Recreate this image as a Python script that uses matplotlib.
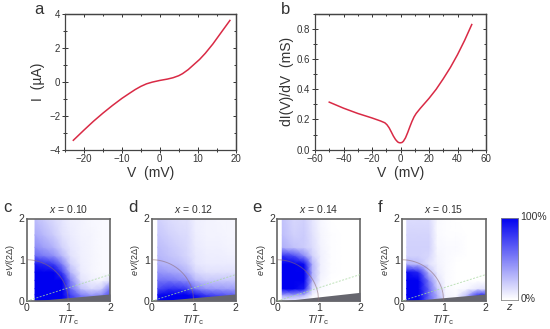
import matplotlib
matplotlib.use('Agg')
import matplotlib.pyplot as plt
from matplotlib.colors import LinearSegmentedColormap
from matplotlib.ticker import MultipleLocator
import numpy as np

plt.rcParams['font.family'] = ['Liberation Sans', 'DejaVu Sans']
plt.rcParams['mathtext.fontset'] = 'custom'
plt.rcParams['mathtext.it'] = 'Liberation Sans:italic'
plt.rcParams['mathtext.rm'] = 'Liberation Sans'

W, H = 550, 329
DARK = '#333333'
FRAME = '#444444'

v_a = [-22.8, -20, -17.5, -15, -12.5, -10, -8, -6.5, -5, -3.5, -2, 0, 2, 3.5, 5, 6, 7.5, 9, 10.5, 12, 14, 16, 18.5]
i_a = [-3.45, -2.85, -2.33, -1.85, -1.40, -0.98, -0.68, -0.46, -0.27, -0.12, -0.02, 0.08, 0.16, 0.24, 0.36, 0.48, 0.72, 1.02, 1.32, 1.68, 2.23, 2.85, 3.62]

v_b = [-50, -40, -30, -20, -14, -11, -9.5, -8, -6.5, -5, -3.5, -2, -1, 0, 1, 2, 3.5, 5, 6.5, 8, 9.5, 11, 14, 20, 25, 30, 35, 40, 45, 50]
g_b = [0.315, 0.275, 0.24, 0.21, 0.19, 0.178, 0.165, 0.145, 0.118, 0.09, 0.067, 0.051, 0.046, 0.045, 0.047, 0.055, 0.078, 0.112, 0.15, 0.186, 0.217, 0.24, 0.275, 0.34, 0.40, 0.47, 0.545, 0.63, 0.725, 0.83]

t_grid = [0.4, 0.65, 0.85, 1.05, 1.3, 1.55, 1.8, 2.0]
e_grid = [0.0, 0.15, 0.3, 0.5, 0.7, 0.9, 1.1, 1.3, 1.6, 2.0]

z_c = [
    [1.00, 1.00, 1.00, 1.00, 0.80, 0.65, 0.60, 0.65, 0.80],
    [1.00, 1.00, 1.00, 1.00, 0.75, 0.50, 0.40, 0.45, 0.70],
    [1.00, 1.00, 1.00, 1.00, 0.60, 0.25, 0.15, 0.20, 0.55],
    [1.00, 1.00, 1.00, 1.00, 0.50, 0.12, 0.06, 0.04, 0.12],
    [1.00, 1.00, 1.00, 0.75, 0.30, 0.08, 0.04, 0.02, 0.02],
    [0.90, 0.85, 0.75, 0.50, 0.18, 0.07, 0.04, 0.02, 0.02],
    [0.58, 0.52, 0.44, 0.28, 0.12, 0.06, 0.04, 0.02, 0.02],
    [0.45, 0.38, 0.30, 0.18, 0.10, 0.06, 0.04, 0.02, 0.02],
    [0.34, 0.28, 0.20, 0.12, 0.08, 0.05, 0.04, 0.02, 0.02],
    [0.25, 0.20, 0.14, 0.10, 0.06, 0.05, 0.03, 0.02, 0.02],
]
z_d = [
    [1.00, 1.00, 1.00, 1.00, 1.00, 0.95, 0.90, 0.85, 0.80],
    [0.95, 1.00, 1.00, 1.00, 0.90, 0.75, 0.70, 0.65, 0.60],
    [0.70, 0.80, 0.80, 0.75, 0.52, 0.42, 0.40, 0.38, 0.38],
    [0.55, 0.55, 0.50, 0.45, 0.28, 0.22, 0.22, 0.22, 0.22],
    [0.42, 0.38, 0.34, 0.28, 0.16, 0.12, 0.12, 0.12, 0.12],
    [0.32, 0.28, 0.25, 0.20, 0.10, 0.08, 0.08, 0.08, 0.08],
    [0.28, 0.24, 0.20, 0.16, 0.09, 0.07, 0.07, 0.06, 0.06],
    [0.26, 0.22, 0.18, 0.15, 0.08, 0.06, 0.06, 0.05, 0.05],
    [0.22, 0.18, 0.15, 0.14, 0.07, 0.05, 0.05, 0.04, 0.04],
    [0.18, 0.14, 0.12, 0.12, 0.06, 0.05, 0.04, 0.04, 0.03],
]
z_e = [
    [0.05, 0.05, 0.03, 0.00, 0.00, 0.00, 0.00, 0.00, 0.00],
    [0.40, 0.40, 0.30, 0.05, 0.00, 0.00, 0.00, 0.00, 0.00],
    [1.00, 1.00, 0.90, 0.15, 0.02, 0.00, 0.00, 0.00, 0.00],
    [1.00, 1.00, 1.00, 0.28, 0.04, 0.00, 0.00, 0.00, 0.00],
    [1.00, 1.00, 1.00, 0.30, 0.06, 0.01, 0.00, 0.00, 0.00],
    [1.00, 1.00, 0.95, 0.30, 0.06, 0.01, 0.00, 0.00, 0.00],
    [0.80, 0.70, 0.45, 0.18, 0.06, 0.01, 0.00, 0.00, 0.00],
    [0.32, 0.24, 0.20, 0.14, 0.05, 0.01, 0.00, 0.00, 0.00],
    [0.26, 0.18, 0.20, 0.12, 0.04, 0.01, 0.00, 0.00, 0.00],
    [0.24, 0.16, 0.18, 0.10, 0.03, 0.00, 0.00, 0.00, 0.00],
]
z_f = [
    [1.00, 1.00, 0.60, 0.35, 0.05, 0.03, 0.30, 0.60, 0.60],
    [1.00, 1.00, 0.60, 0.30, 0.04, 0.02, 0.25, 0.75, 0.80],
    [1.00, 1.00, 0.60, 0.22, 0.03, 0.01, 0.03, 0.10, 0.12],
    [1.00, 1.00, 0.50, 0.12, 0.02, 0.00, 0.00, 0.00, 0.00],
    [0.95, 0.85, 0.25, 0.07, 0.02, 0.00, 0.00, 0.00, 0.00],
    [0.30, 0.25, 0.12, 0.05, 0.02, 0.00, 0.00, 0.00, 0.00],
    [0.18, 0.18, 0.16, 0.04, 0.02, 0.01, 0.00, 0.00, 0.00],
    [0.18, 0.18, 0.18, 0.03, 0.02, 0.02, 0.00, 0.00, 0.00],
    [0.17, 0.17, 0.17, 0.02, 0.01, 0.01, 0.00, 0.00, 0.00],
    [0.14, 0.14, 0.14, 0.02, 0.01, 0.00, 0.00, 0.00, 0.00],
]

# letter, title, values, axes box, first T of the map, wedge top, letter x
panels = [
    ('c', 'x = 0.10', z_c, (26.7, 110.0), 0.2, 0.17, 3),
    ('d', 'x = 0.12', z_d, (151.7, 235.7), 0.145, 0.17, 128),
    ('e', 'x = 0.14', z_e, (277.3, 360.0), 0.12, 0.21, 252),
    ('f', 'x = 0.15', z_f, (401.7, 485.7), 0.12, 0.17, 378),
]

wb = LinearSegmentedColormap.from_list('wb', ['#ffffff', '#0000f0'])


def px_axes(fig, x0, x1, y0, y1):
    # pixel box, y counted from the top of the picture
    return fig.add_axes([x0 / W, 1 - y1 / H, (x1 - x0) / W, (y1 - y0) / H])


def style(ax, lw=0.9, color=FRAME):
    for s in ax.spines.values():
        s.set_linewidth(lw)
        s.set_color(color)


def style_ticks(ax, x_minor, y_minor):
    # bottom and left ticks cross the frame, top and right ones only point inwards
    ax.xaxis.set_minor_locator(MultipleLocator(x_minor))
    ax.yaxis.set_minor_locator(MultipleLocator(y_minor))
    ax.tick_params(which='both', direction='inout', color=DARK, labelcolor=DARK, labelsize=7, pad=1.5, length=4, width=0.7)
    ax.tick_params(which='minor', length=2.2)
    top = ax.secondary_xaxis('top')
    top.set_xticks(ax.get_xticks())
    top.xaxis.set_minor_locator(MultipleLocator(x_minor))
    right = ax.secondary_yaxis('right')
    right.set_yticks(ax.get_yticks())
    right.yaxis.set_minor_locator(MultipleLocator(y_minor))
    for sec in (top, right):
        sec.tick_params(which='both', direction='in', color=DARK, length=2, width=0.7, labeltop=False, labelright=False)
        sec.tick_params(which='minor', length=1.2)
        style(sec)


fig = plt.figure(figsize=(W / 100, H / 100), dpi=100)

ax = px_axes(fig, 65, 235.6, 14, 149.6)
ax.plot(v_a, i_a, color='#d92a45', lw=1.1)
ax.set_xlim(-25, 20)
ax.set_ylim(-4, 4)
ax.set_xticks([-20, -10, 0, 10, 20])
ax.set_xticklabels(['\u221220', '\u221210', '0', '10', '20'])
ax.set_yticks([-4, -2, 0, 2, 4])
ax.set_yticklabels(['\u22124', '\u22122', '0', '2', '4'])
style_ticks(ax, 5, 1)
ax.set_xlabel('V  (mV)', fontsize=10, color=DARK, labelpad=1)
ax.set_ylabel('I  (\u00b5A)', fontsize=10, color=DARK, labelpad=3)
style(ax)
fig.text(34 / W, 1 - 9 / H, 'a', fontsize=12, color=DARK, ha='left', va='center')

ax = px_axes(fig, 315, 486, 14, 149.6)
ax.plot(v_b, g_b, color='#d92a45', lw=1.1)
ax.set_xlim(-60, 60)
ax.set_ylim(0, 0.9)
ax.set_xticks([-60, -40, -20, 0, 20, 40, 60])
ax.set_xticklabels(['\u221260', '\u221240', '\u221220', '0', '20', '40', '60'])
ax.set_yticks([0, 0.2, 0.4, 0.6, 0.8])
ax.set_yticklabels(['0.0', '0.2', '0.4', '0.6', '0.8'])
style_ticks(ax, 10, 0.1)
ax.set_xlabel('V  (mV)', fontsize=10, color=DARK, labelpad=1)
ax.set_ylabel('dI(V)/dV  (mS)', fontsize=10, color=DARK, labelpad=2)
style(ax)
fig.text(281 / W, 1 - 9 / H, 'b', fontsize=12, color=DARK, ha='left', va='center')

for letter, title, z, (x0, x1), t0, wedge, lx in panels:
    ax = px_axes(fig, x0, x1, 218.5, 301)
    ax.pcolormesh([t0] + t_grid, e_grid, np.array(z), cmap=wb, vmin=0, vmax=1, shading='gouraud', rasterized=True)
    t_line = np.linspace(0, 1, 60)
    ax.fill_between([0.1, 2], [0, 0], [0, wedge], color='#66666e', lw=0, zorder=3)
    ax.plot(t_line, np.sqrt(1 - t_line ** 2), color='#8a6a72', lw=0.7, alpha=0.55, zorder=4)
    ax.plot([0, 2], [0, 0.64], color='#a8d8a0', lw=0.7, alpha=0.75, ls=(0, (2, 1.5)), zorder=4)
    ax.set_xlim(0, 2)
    ax.set_ylim(0, 2)
    ax.set_xticks([0, 1, 2])
    ax.set_yticks([0, 1, 2])
    ax.tick_params(length=0, labelsize=7.5, labelcolor=DARK, pad=1.5)
    ax.set_xlabel(r'$\mathit{T}/\mathit{T}_{\mathrm{c}}$', fontsize=8, color=DARK, labelpad=0)
    ax.set_ylabel(r'$\mathit{eV}/(2\Delta)$', fontsize=6.5, color=DARK, labelpad=1)
    style(ax, 1.2, '#666666')
    ax.text(0.5, 1.04, title.replace('x', r'$\mathit{x}$'), transform=ax.transAxes, ha='center', va='bottom', fontsize=7.5, color=DARK)
    fig.text(lx / W, 1 - 207 / H, letter, fontsize=12, color=DARK, ha='left', va='center')

cax = px_axes(fig, 501, 518.3, 217.5, 299.7)
ramp = np.linspace(0, 1, 100).reshape(-1, 1)
cax.imshow(ramp, cmap=wb, origin='lower', aspect='auto', extent=[0, 1, 0, 1])
cax.set_xticks([])
cax.set_yticks([])
style(cax, 0.6, '#888888')
fig.text(520 / W, 1 - 217 / H, '100%', fontsize=7.5, color=DARK, ha='left', va='center')
fig.text(521 / W, 1 - 299 / H, '0%', fontsize=7.5, color=DARK, ha='left', va='center')
fig.text(510 / W, 1 - 307 / H, r'$\mathit{z}$', fontsize=8, color=DARK, ha='center', va='center')

fig.savefig('out.png', dpi=100)
